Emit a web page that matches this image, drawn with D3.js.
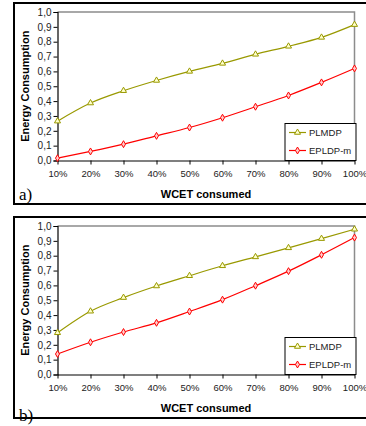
<!DOCTYPE html>
<html>
<head>
<meta charset="utf-8">
<script src="https://cdn.jsdelivr.net/npm/d3@7"></script>
<style>
  body { margin: 0; background: #fff; }
  svg { display: block; font-family: "Liberation Sans", Arial, sans-serif; }
</style>
</head>
<body>
<svg id="chart" width="366" height="426"></svg>
<script>
// Data
const categories = ['10%', '20%', '30%', '40%', '50%', '60%', '70%', '80%', '90%', '100%'];
const yTicks = [0, 0.1, 0.2, 0.3, 0.4, 0.5, 0.6, 0.7, 0.8, 0.9, 1.0];

const plmdpA = [0.265, 0.387, 0.47, 0.539, 0.6, 0.654, 0.715, 0.769, 0.829, 0.915];
const epldpA = [0.016, 0.061, 0.11, 0.166, 0.222, 0.288, 0.362, 0.438, 0.526, 0.62];
const plmdpB = [0.281, 0.426, 0.518, 0.596, 0.665, 0.732, 0.792, 0.853, 0.915, 0.978];
const epldpB = [0.138, 0.217, 0.286, 0.348, 0.424, 0.504, 0.598, 0.696, 0.806, 0.922];

const seriesNames = ['PLMDP', 'EPLDP-m'];
const olive = '#999900';
const red = '#ff0000';

const svg = d3.select('#chart');

function drawPanel(top, label, labelY, plmdp, epldp) {
  const frame = { x: 14, y: top, w: 360, h: 201 };
  const plot = { left: 57.5, right: 354.5, top: top + 9, bottom: top + 157.5 };

  const g = svg.append('g');

  // outer frame
  g.append('rect')
    .attr('x', frame.x).attr('y', frame.y)
    .attr('width', frame.w).attr('height', frame.h)
    .attr('fill', 'none').attr('stroke', '#000').attr('stroke-width', 2);

  const x = d3.scalePoint()
    .domain(categories)
    .range([plot.left, plot.right]);

  const y = d3.scaleLinear()
    .domain([0, 1])
    .range([plot.bottom, plot.top]);

  // plot border (gray top / right)
  g.append('path')
    .attr('d', `M${plot.left},${plot.top}H${plot.right}V${plot.bottom}`)
    .attr('fill', 'none').attr('stroke', '#8c8c8c').attr('stroke-width', 1.5);

  // axes
  const yAxis = g.append('g')
    .attr('transform', `translate(${plot.left},0)`)
    .call(d3.axisLeft(y).tickValues(yTicks).tickSize(4).tickFormat(d => d3.format('.1f')(d).replace('.', ',')));
  yAxis.select('.domain').attr('stroke-width', 1.2);
  yAxis.selectAll('text').attr('font-size', 10).attr('fill', '#222').attr('x', -6);

  const xAxis = g.append('g')
    .attr('transform', `translate(0,${plot.bottom})`)
    .call(d3.axisBottom(x).tickSize(4).tickSizeOuter(0));
  xAxis.select('.domain').attr('stroke-width', 1.2);
  xAxis.selectAll('text').attr('font-size', 9.5).attr('fill', '#222').attr('y', 10);

  // axis titles
  g.append('text')
    .attr('x', (plot.left + plot.right) / 2)
    .attr('y', plot.bottom + 37)
    .attr('text-anchor', 'middle')
    .attr('font-size', 11).attr('font-weight', 'bold')
    .text('WCET consumed');

  g.append('text')
    .attr('transform', `translate(29,${(plot.top + plot.bottom) / 2}) rotate(-90)`)
    .attr('text-anchor', 'middle')
    .attr('font-size', 11).attr('font-weight', 'bold')
    .text('Energy Consumption');

  // panel label
  g.append('text')
    .attr('x', 19)
    .attr('y', labelY)
    .attr('font-family', '"Liberation Serif", "Times New Roman", serif')
    .attr('font-size', 17)
    .text(label);

  const line = d3.line()
    .x((d, i) => x(categories[i]))
    .y(d => y(d))
    .curve(d3.curveMonotoneX);

  const tri = d3.symbol().type(d3.symbolTriangle).size(16);
  const dia = d3.symbol().type(d3.symbolDiamond).size(14);

  // PLMDP
  g.append('path').datum(plmdp)
    .attr('d', line).attr('fill', 'none')
    .attr('stroke', olive).attr('stroke-width', 1.2);
  g.selectAll('.tri').data(plmdp).join('path')
    .attr('class', 'tri')
    .attr('transform', (d, i) => `translate(${x(categories[i])},${y(d)})`)
    .attr('d', tri).attr('fill', '#ffffcc').attr('stroke', olive).attr('stroke-width', 1);

  // EPLDP-m
  g.append('path').datum(epldp)
    .attr('d', line).attr('fill', 'none')
    .attr('stroke', red).attr('stroke-width', 1.2);
  g.selectAll('.dia').data(epldp).join('path')
    .attr('class', 'dia')
    .attr('transform', (d, i) => `translate(${x(categories[i])},${y(d)})`)
    .attr('d', dia).attr('fill', '#ffcccc').attr('stroke', red).attr('stroke-width', 1);

  // legend
  const lg = g.append('g').attr('transform', `translate(285,${plot.bottom - 37})`);
  lg.append('rect')
    .attr('width', 71).attr('height', 37)
    .attr('fill', '#fff').attr('stroke', '#000').attr('stroke-width', 1);

  seriesNames.forEach((name, i) => {
    const ly = 9 + i * 18;
    const col = i === 0 ? olive : red;
    lg.append('line')
      .attr('x1', 4).attr('x2', 21).attr('y1', ly).attr('y2', ly)
      .attr('stroke', col).attr('stroke-width', 1.2);
    lg.append('path')
      .attr('transform', `translate(12.5,${ly})`)
      .attr('d', i === 0 ? tri : dia)
      .attr('fill', i === 0 ? '#ffffcc' : '#ffcccc')
      .attr('stroke', col).attr('stroke-width', 1);
    lg.append('text')
      .attr('x', 24).attr('y', ly).attr('dy', '0.35em')
      .attr('font-size', 9.5).attr('fill', '#222')
      .text(name);
  });
}

drawPanel(3, 'a)', 200, plmdpA, epldpA);
drawPanel(217, 'b)', 421, plmdpB, epldpB);
</script>
</body>
</html>
